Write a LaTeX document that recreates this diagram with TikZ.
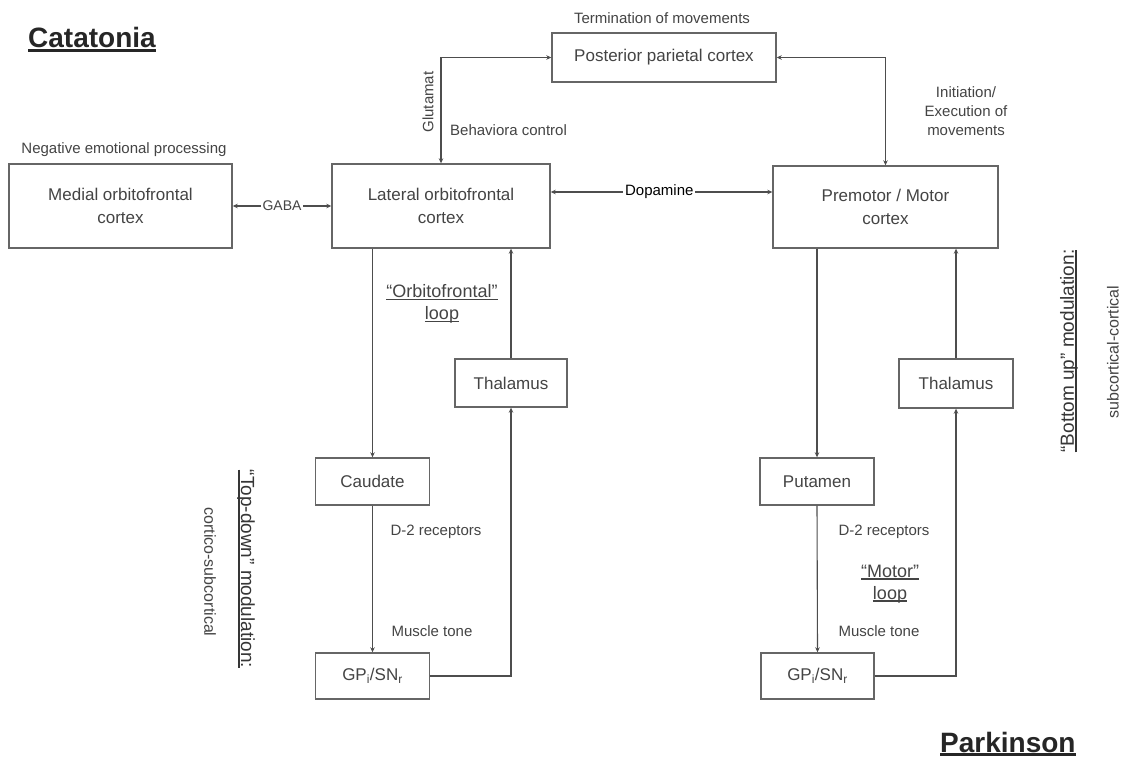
\documentclass[tikz,border=0pt]{standalone}
\usepackage{fontspec}
\setmainfont{Liberation Sans}
\usetikzlibrary{arrows.meta}
\definecolor{txt}{HTML}{444444}
\definecolor{ln}{HTML}{4D4D4D}
\definecolor{bx}{HTML}{666666}
\newcommand{\myul}[1]{\setbox0\hbox{#1}\leavevmode\rlap{\rule[-0.14em]{\wd0}{0.09em}}\box0}
\tikzset{
  box/.style={draw=bx, line width=1.4pt, inner sep=0pt, align=center, text=txt,
    font=\fontsize{17}{23}\selectfont},
  lbl/.style={text=txt, inner sep=0pt, align=center, font=\fontsize{15}{19}\selectfont},
  biglbl/.style={text=txt, inner sep=0pt, align=center, font=\fontsize{18}{22}\selectfont},
  vlbl/.style={text=txt!80!black, inner sep=0pt, font=\fontsize{19}{22}\selectfont},
  vsub/.style={text=txt, inner sep=0pt, font=\fontsize{16}{19}\selectfont},
  title/.style={text=black!85, inner sep=0pt, font=\fontsize{28}{30}\selectfont\bfseries},
  tip/.tip={Stealth[length=5pt,width=4.5pt]},
  conn/.style={draw=ln, line width=1.1pt, -tip},
  biconn/.style={draw=ln, line width=1.1pt, tip-tip},
}
\begin{document}
\begin{tikzpicture}[x=1pt,y=-1pt]
\fill[white] (0,0) rectangle (1123,759);
\useasboundingbox (0,0) rectangle (1123,759);

% titles
\node[title, anchor=base west] (cat) at (28,48) {\myul{Catatonia}};
\node[title, anchor=base west] (park) at (940,752) {\myul{Parkinson}};

% boxes
\node[box, minimum width=224pt, minimum height=49pt] (ppc) at (664,57.5) {Posterior parietal cortex};
\node[box, minimum width=223pt, minimum height=84pt] (mofc) at (120.5,206) {Medial orbitofrontal\\cortex};
\node[box, minimum width=218pt, minimum height=84pt] (lofc) at (441,206) {Lateral orbitofrontal\\cortex};
\node[box, minimum width=225pt, minimum height=82pt] (prem) at (885.5,207) {Premotor / Motor\\cortex};
\node[box, minimum width=112pt, minimum height=48pt] (thall) at (511,383) {Thalamus};
\node[box, minimum width=114pt, minimum height=49pt] (thalr) at (956,383.5) {Thalamus};
\node[box, minimum width=114pt, minimum height=47pt] (caud) at (372.5,481.5) {Caudate};
\node[box, minimum width=114pt, minimum height=47pt] (put) at (817,481.5) {Putamen};
\node[box, minimum width=114pt, minimum height=46pt] (gpl) at (372.5,676) {GP\textsubscript{i}/SN\textsubscript{r}};
\node[box, minimum width=113pt, minimum height=46pt] (gpr) at (817.5,676) {GP\textsubscript{i}/SN\textsubscript{r}};

% labels
\node[lbl] (term) at (662,18) {Termination of movements};
\node[lbl] (neg) at (124,150) {Negative emotional processing};
\node[lbl, rotate=90] (glu) at (428,102) {Glutamat};
\node[lbl, anchor=west] (beh) at (450,130) {Behaviora control};
\node[lbl] (init) at (966,111) {Initiation/\\Execution of\\movements};
\node[biglbl] (ofl) at (442,304) {\myul{“Orbitofrontal”}\\\myul{loop}};
\node[lbl] (d2l) at (436,532) {D-2 receptors};
\node[lbl] (mtl) at (432,631) {Muscle tone};
\node[lbl] (d2r) at (884,532) {D-2 receptors};
\node[lbl] (mtr) at (879,631) {Muscle tone};
\node[biglbl] (mol) at (890,584) {\myul{“Motor”}\\\myul{loop}};
\node[vlbl, rotate=-90] (td) at (246,569) {\myul{“Top-down” modulation:}};
\node[vsub, rotate=-90] (cs) at (210,572) {cortico-subcortical};
\node[vlbl, rotate=90] (bu) at (1069,351) {\myul{“Bottom up” modulation:}};
\node[vsub, rotate=90] (sc) at (1113,352) {subcortical-cortical};

% top connectors
\draw[biconn] (ppc.west) -| (lofc.north);
\draw[biconn] (ppc.east) -| (prem.north);

% GABA
\draw[biconn] (mofc.east) -- node[fill=white, inner sep=2pt, text=txt, font=\fontsize{14}{16}\selectfont] (gaba) {GABA} (lofc.west);

% Dopamine
\coordinate (dy) at (0,192);
\draw[biconn] (lofc.east |- dy) -- node[pos=0.49, fill=white, inner sep=2pt, text=black, font=\fontsize{15}{18}\selectfont] (dopa) {Dopamine} (prem.west |- dy);

% left loop
\draw[conn] (caud.north |- lofc.south) -- (caud.north);
\draw[conn] (caud.south) -- (gpl.north);
\draw[conn] (gpl.east) -| (thall.south);
\draw[conn] (thall.north) -- (thall.north |- lofc.south);

% right loop
\draw[conn] (put.north |- prem.south) -- (put.north);
\draw[conn] (put.south) -- (gpr.north);
\draw[conn] (gpr.east) -| (thalr.south);
\draw[conn] (thalr.north) -- (thalr.north |- prem.south);
\end{tikzpicture}
\end{document}
